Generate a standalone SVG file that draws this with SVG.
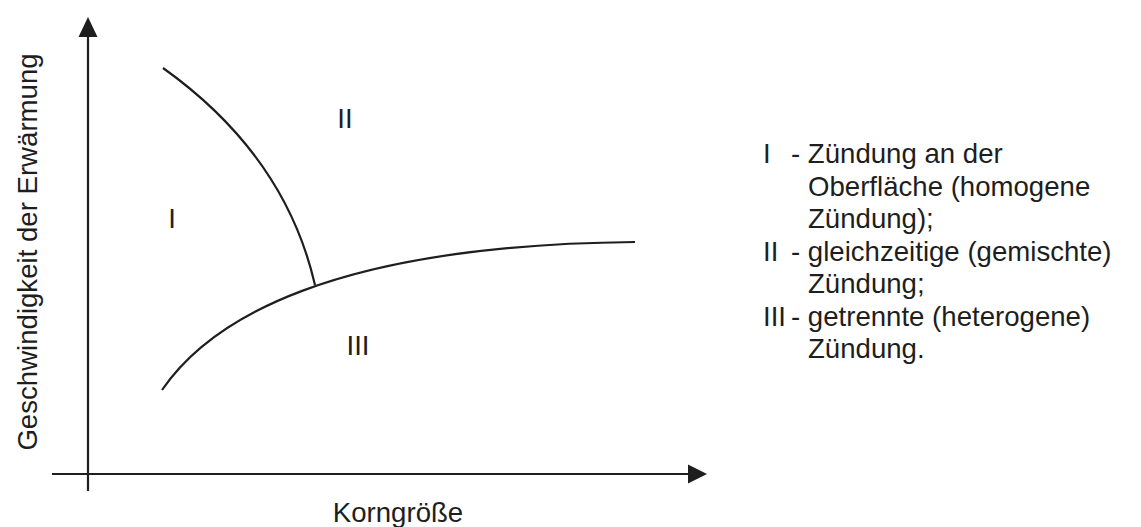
<svg xmlns="http://www.w3.org/2000/svg" width="1141" height="527" viewBox="0 0 1141 527">
<style>
  .ln{fill:none;stroke:#1e1e1e;stroke-width:2.2;stroke-linecap:butt}
  .ah{fill:#1e1e1e}
  text{font-family:"Liberation Sans",Arial,sans-serif;fill:#1e1e1e;font-size:27.6px}
</style>
<rect width="1141" height="527" fill="#ffffff"/>
<g id="connectors">
  <line class="ln" x1="88" y1="491" x2="88" y2="36"/>
  <polygon class="ah" points="88,17 78.5,37 97.5,37"/>
  <line class="ln" x1="52" y1="474" x2="690" y2="474"/>
  <polygon class="ah" points="707,474 688,464.5 688,483.5"/>
  <path class="ln" d="M163,68 Q285,155 315,285"/>
  <path class="ln" d="M162,390 C210,320 330,245 635,242"/>
</g>
<g id="axis-y-label"><text transform="translate(37,252) rotate(-90)" text-anchor="middle" font-size="29">Geschwindigkeit der Erwärmung</text></g>
<g id="axis-x-label"><text x="398" y="522" text-anchor="middle">Korngröße</text></g>
<g id="region-I"><text x="172" y="228" text-anchor="middle">I</text></g>
<g id="region-II"><text x="345" y="128" text-anchor="middle">II</text></g>
<g id="region-III"><text x="358" y="355" text-anchor="middle">III</text></g>
<g id="legend">
  <text x="763" y="163">I</text>
  <text x="791" y="163">- Zündung an der</text>
  <text x="808" y="195.5">Oberfläche (homogene</text>
  <text x="808" y="228">Zündung);</text>
  <text x="763" y="260.5">II</text>
  <text x="791" y="260.5">- gleichzeitige (gemischte)</text>
  <text x="808" y="293">Zündung;</text>
  <text x="763" y="325.5">III</text>
  <text x="791" y="325.5">- getrennte (heterogene)</text>
  <text x="808" y="358">Zündung.</text>
</g>
</svg>
